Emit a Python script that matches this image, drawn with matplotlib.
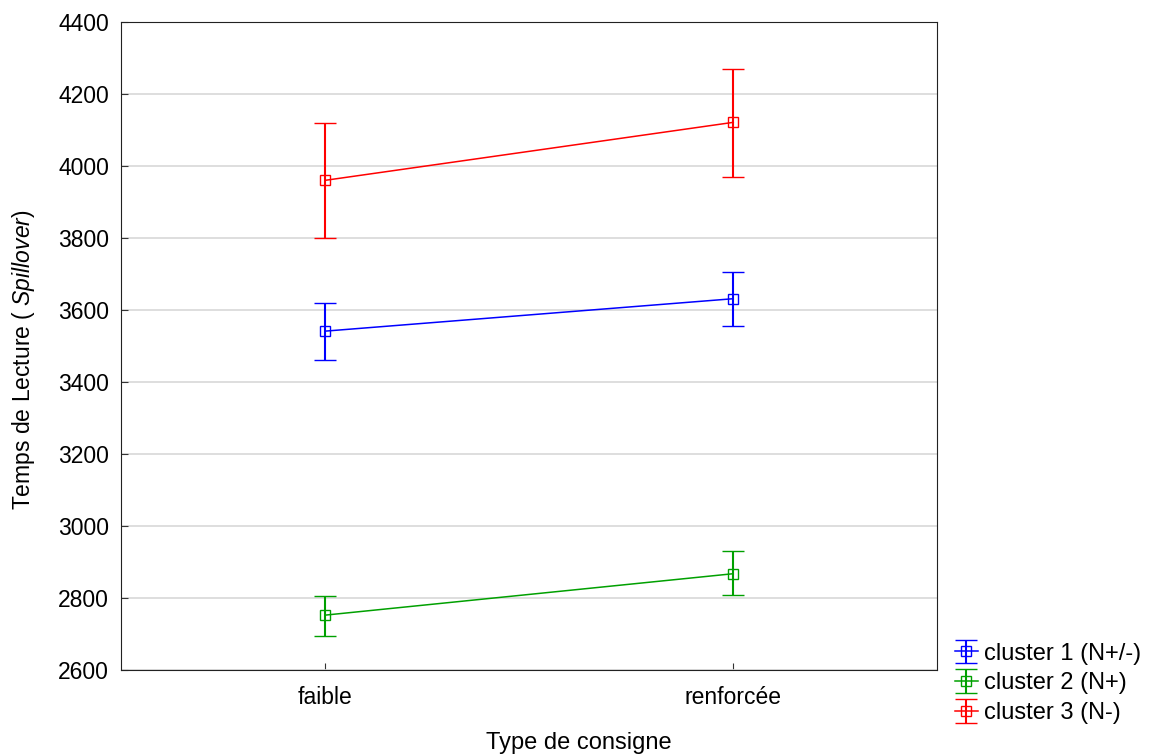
"""
Reading time by instruction type, per cluster, with error bars.
"""

import numpy as np
import matplotlib
matplotlib.use("Agg")
import matplotlib.pyplot as plt

plt.rcParams["font.family"] = ["Liberation Sans", "DejaVu Sans"]
plt.rcParams["mathtext.fontset"] = "custom"
plt.rcParams["mathtext.it"] = "Liberation Sans:italic"
plt.rcParams["mathtext.rm"] = "Liberation Sans"

# data
categories = ["faible", "renforcée"]
series_names = ["cluster 1 (N+/-)", "cluster 2 (N+)", "cluster 3 (N-)"]
colors = ["#0000ff", "#00a000", "#ff0000"]

cluster1_mean = [3541, 3631]
cluster1_low = [3462, 3555]
cluster1_high = [3620, 3704]

cluster2_mean = [2752, 2867]
cluster2_low = [2695, 2807]
cluster2_high = [2804, 2930]

cluster3_mean = [3960, 4121]
cluster3_low = [3800, 3970]
cluster3_high = [4118, 4270]

means = [cluster1_mean, cluster2_mean, cluster3_mean]
lows = [cluster1_low, cluster2_low, cluster3_low]
highs = [cluster1_high, cluster2_high, cluster3_high]

fig = plt.figure(figsize=(11.57, 7.56), dpi=100)
ax = fig.add_axes([0.105, 0.114, 0.705, 0.857])

x = np.arange(len(categories))
for name, col, m, lo, hi in zip(series_names, colors, means, lows, highs):
    m = np.array(m)
    err = [m - np.array(lo), np.array(hi) - m]
    ax.errorbar(x, m, yerr=err, color=col, lw=1.1, elinewidth=1.5,
                capsize=8, capthick=1.5, marker="s", markersize=7,
                markerfacecolor="none", markeredgecolor=col, markeredgewidth=1,
                label=name, zorder=3)

ax.set_xlim(-0.5, 1.5)
ax.set_ylim(2600, 4400)
ax.set_yticks(np.arange(2600, 4401, 200))
ax.set_xticks(x)
ax.set_xticklabels(categories)
ax.yaxis.grid(True, color="#d8d8d8", lw=1.2)
ax.set_axisbelow(True)
ax.tick_params(labelsize=16.5, length=5, direction="in", color="#333333")
ax.tick_params(axis="y", pad=9)
ax.tick_params(axis="x", pad=12)
for s in ax.spines.values():
    s.set_color("#222222")

fig.text(0.5, 0.003, "Type de consigne", fontsize=17, ha="center", va="bottom")
fig.text(0.02, 0.524, r"Temps de Lecture ( $\it{Spillover}$)", fontsize=16.5,
         rotation=90, ha="center", va="center")

ax.legend(loc="lower left", bbox_to_anchor=(0.825, 0.042),
          bbox_transform=fig.transFigure, frameon=False,
          fontsize=17, handlelength=1.0, handletextpad=0.25, labelspacing=0.33,
          borderaxespad=0, borderpad=0)

fig.savefig("out.png", dpi=100)
